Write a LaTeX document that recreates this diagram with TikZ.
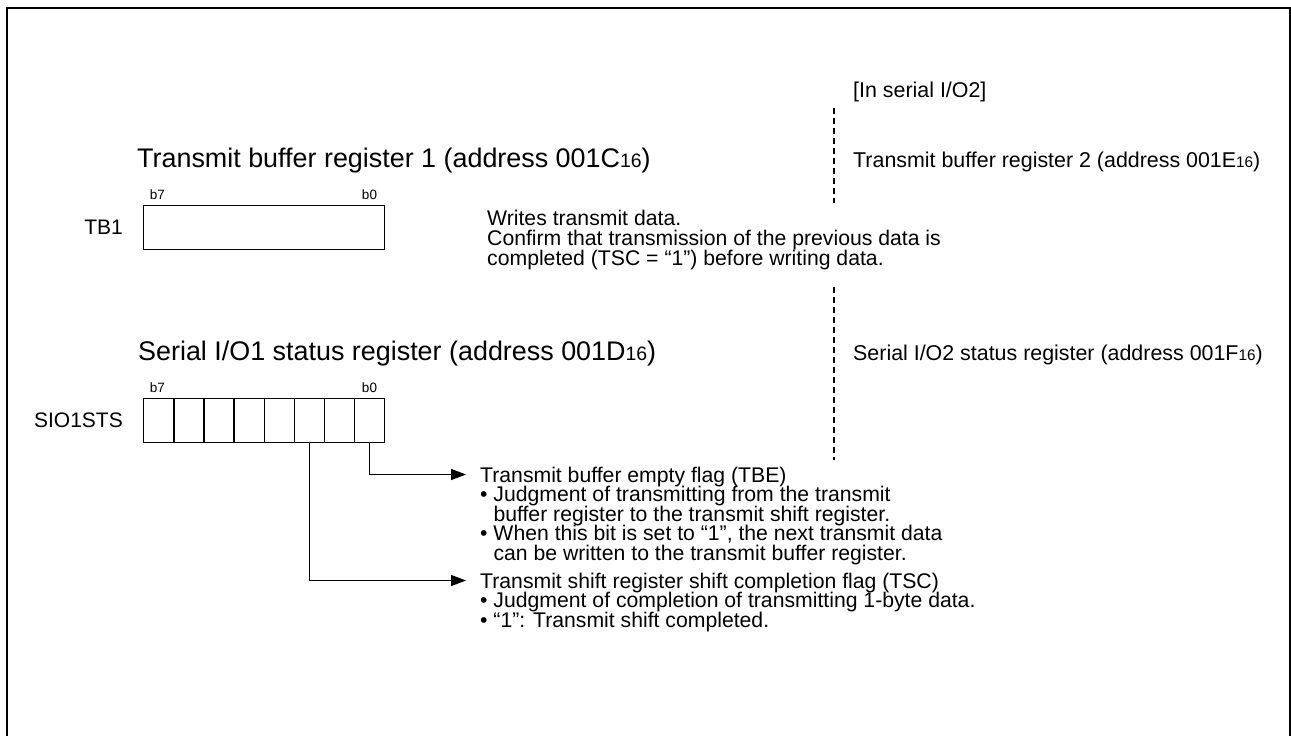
\documentclass[tikz,border=0pt]{standalone}
\usepackage{fontspec}
\setmainfont{Liberation Sans}
\usetikzlibrary{arrows.meta}
% smaller digits for the radix suffix, sitting on the baseline
\newcommand{\radix}[2]{{\fontsize{#1}{#1}\selectfont #2}}

\begin{document}
\begin{tikzpicture}[x=1pt,y=-1pt,
  head/.style={font=\fontsize{26.9}{30}\selectfont, anchor=base west, inner sep=0pt},
  txt/.style={font=\fontsize{21.2}{24}\selectfont, anchor=base west, inner sep=0pt},
  side/.style={font=\fontsize{21.4}{24}\selectfont, anchor=base west, inner sep=0pt},
  regname/.style={font=\fontsize{21}{24}\selectfont, anchor=base east, inner sep=0pt},
  bitlbl/.style={font=\fontsize{13.5}{15}\selectfont, anchor=base, inner sep=0pt},
  regbox/.style={draw, line width=1.4pt, minimum height=44pt, inner sep=0pt, anchor=north west},
  conn/.style={line width=1.4pt},
  arr/.style={conn, -{Triangle[length=15pt,width=11pt]}},
  sep/.style={line width=2.7pt, dash pattern=on 6pt off 4pt},
  frame/.style={line width=2pt}]

\useasboundingbox (0,0) rectangle (1291,736);
\fill[white] (0,0) rectangle (1291,736);

% outer frame (open at the bottom)
\draw[frame] (7,745) -- (7,8) -- (1290,8) -- (1290,745);

% ---- Transmit buffer register 1 ----
\node[head] (h1) at (137,167) {Transmit buffer register 1 (address 001C\radix{19.4}{16})};
\node[bitlbl] (tb7) at (157.5,199) {b7};
\node[bitlbl] (tb0) at (369.5,199) {b0};
\node[regbox, minimum width=241pt] (tb1) at (143,205) {};
\node[regname] (tb1name) at (123,234.5) {TB1};

\node[txt] (w1) at (487,225) {Writes transmit data.};
\node[txt] (w2) at (487,245) {Confirm that transmission of the previous data is};
\node[txt] (w3) at (487,265) {completed (TSC = “1”) before writing data.};

% ---- Serial I/O1 status register ----
\node[head] (h2) at (138,360) {Serial I/O1 status register (address 001D\radix{19.4}{16})};
\node[bitlbl] (sb7) at (157.5,392) {b7};
\node[bitlbl] (sb0) at (369.5,392) {b0};
\foreach \i in {7,...,0}{
  \node[regbox, minimum width=30.125pt] (c\i) at ({143+(7-\i)*30.125},398) {};
}
\node[regname] (sioname) at (123,427.5) {SIO1STS};

% flag descriptions
\node[txt] (tbe1) at (480,482) {Transmit buffer empty flag (TBE)};
\node[txt] (tbe2) at (480,501.5) {• Judgment of transmitting from the transmit};
\node[txt] (tbe3) at (480,521) {\phantom{• }buffer register to the transmit shift register.};
\node[txt] (tbe4) at (480,540.5) {• When this bit is set to “1”, the next transmit data};
\node[txt] (tbe5) at (480,560) {\phantom{• }can be written to the transmit buffer register.};

\node[txt] (tsc1) at (480,588) {Transmit shift register shift completion flag (TSC)};
\node[txt] (tsc2) at (480,607.5) {• Judgment of completion of transmitting 1-byte data.};
\node[txt] (tsc3) at (480,627) {• “1”: Transmit shift completed.};

\coordinate (tbeTip) at (466,474.5);
\coordinate (tscTip) at (466,580.5);
\draw[arr] (c0.south) |- (tbeTip);
\draw[arr] (c2.south) |- (tscTip);

% ---- serial I/O2 column ----
\coordinate (sepA) at (834,108);
\coordinate (sepB) at (834,203);
\coordinate (sepC) at (834,287);
\coordinate (sepD) at (834,460);
\draw[sep] (sepA) -- (sepB);
\draw[sep] (sepC) -- (sepD);

\node[side] (io2) at (853,97) {[In serial I/O2]};
\node[side] (h3) at (853,167) {Transmit buffer register 2 (address 001E\radix{15.3}{16})};
\node[side] (h4) at (853,360) {Serial I/O2 status register (address 001F\radix{15.3}{16})};
\end{tikzpicture}
\end{document}
